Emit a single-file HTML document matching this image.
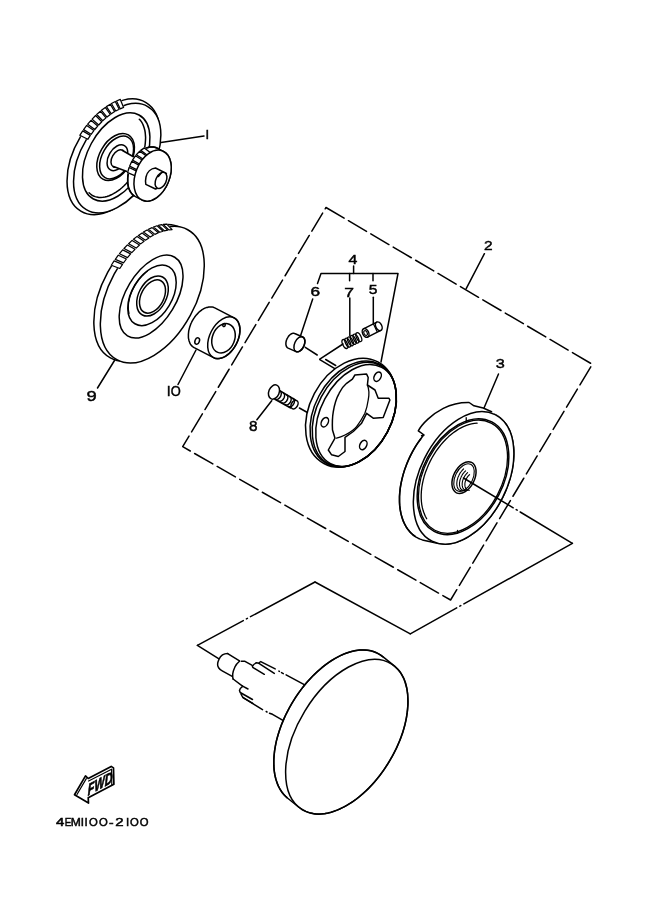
<!DOCTYPE html>
<html><head><meta charset="utf-8">
<style>
html,body{margin:0;padding:0;background:#fff;}
body{width:661px;height:913px;overflow:hidden;}
svg{display:block;will-change:transform;}
text{font-family:"Liberation Sans",sans-serif;fill:#000;}
</style></head><body>
<svg width="661" height="913" viewBox="0 0 661 913">
<g fill="none" stroke="#000" stroke-width="1.5" stroke-linecap="round" stroke-linejoin="round">
<path d="M326,207.5 L592.3,364.3 L450.6,600 L182.7,446.7 Z" fill="none" stroke-dasharray="21,5"/>
<path d="M572.4,543.3 L463.9,603.9 M460.8,605.6 L459.8,606.2 M456.7,607.9 L410.3,633.8" fill="none" />
<path d="M410.3,633.8 L315,582" fill="none" />
<path d="M315.0,582.0 L250.5,616.7 M247.4,618.4 L246.4,618.9 M243.3,620.6 L197.4,645.3" fill="none" />
<ellipse cx="113.4" cy="156.8" rx="38.5" ry="63.3" transform="rotate(31.0 113.4 156.8)" fill="#fff" />
<ellipse cx="117.2" cy="158.2" rx="36.0" ry="60.0" transform="rotate(31.0 117.2 158.2)" fill="#fff" />
<path d="M79.8,135.3 L80.9,133.6 L82.0,131.9 L83.1,130.3 L84.3,128.6 L85.5,127.0 L86.7,125.5 L87.9,123.9 L89.2,122.4 L90.4,120.9 L91.7,119.5 L93.1,118.1 L94.4,116.7 L95.8,115.4 L97.1,114.1 L98.5,112.8 L99.9,111.6 L101.3,110.4 L102.8,109.3 L104.2,108.2 L105.7,107.1 L107.1,106.2 L108.6,105.2 L110.0,104.3 L111.5,103.5 L113.0,102.7 L114.4,101.9 L115.9,101.2 L117.4,100.6 L118.8,100.0 L120.3,99.4 L123.6,107.4 L122.3,107.9 L121.0,108.4 L119.7,109.0 L118.4,109.6 L117.1,110.3 L115.8,111.0 L114.5,111.8 L113.2,112.6 L111.9,113.4 L110.7,114.3 L109.4,115.2 L108.1,116.2 L106.8,117.2 L105.6,118.3 L104.3,119.3 L103.1,120.5 L101.9,121.6 L100.7,122.8 L99.5,124.0 L98.3,125.3 L97.2,126.6 L96.1,127.9 L94.9,129.2 L93.9,130.6 L92.8,132.0 L91.7,133.4 L90.7,134.9 L89.7,136.4 L88.7,137.8 L87.8,139.3Z" fill="#fff" stroke="#fff" stroke-width="1.2"/>
<path d="M79.8,135.3 L82.7,130.9 L90.3,135.4 L87.8,139.3Z" fill="none" stroke-width="1.25" />
<path d="M83.6,129.6 L86.7,125.4 L93.9,130.6 L91.1,134.3Z" fill="none" stroke-width="1.25" />
<path d="M87.7,124.2 L91.0,120.3 L97.7,126.0 L94.8,129.5Z" fill="none" stroke-width="1.25" />
<path d="M92.1,119.1 L95.6,115.5 L101.8,121.7 L98.7,125.0Z" fill="none" stroke-width="1.25" />
<path d="M96.7,114.5 L100.4,111.2 L106.0,117.9 L102.7,120.8Z" fill="none" stroke-width="1.25" />
<path d="M101.5,110.3 L105.3,107.4 L110.3,114.5 L107.0,117.1Z" fill="none" stroke-width="1.25" />
<path d="M106.4,106.6 L110.3,104.2 L114.7,111.6 L111.3,113.8Z" fill="none" stroke-width="1.25" />
<path d="M111.4,103.5 L115.3,101.5 L119.2,109.2 L115.8,111.0Z" fill="none" stroke-width="1.25" />
<path d="M116.5,101.0 L120.3,99.4 L123.6,107.4 L120.2,108.8Z" fill="none" stroke-width="1.25" />
<ellipse cx="116.2" cy="157.0" rx="28.3" ry="47.8" transform="rotate(28.5 116.2 157.0)" fill="none" />
<path d="M139.3,119.2 L140.6,120.6 L141.7,122.2 L142.7,124.0 L143.5,125.9 L144.2,128.0 L144.8,130.2 L145.2,132.5 L145.4,134.9 L145.6,137.5 L145.5,140.1 L145.3,142.8 L145.0,145.6 L144.5,148.4 L143.8,151.2 L143.0,154.1 L142.1,157.0 L141.0,159.9 L139.8,162.8 L138.5,165.6 L137.0,168.4 L135.5,171.1 L133.8,173.8 L132.1,176.4 L130.2,178.8 L128.3,181.2 L126.3,183.4 L124.3,185.5 L122.2,187.5 L120.1,189.3 L117.9,190.9 L115.7,192.4 L113.5,193.7 L111.3,194.8 L109.2,195.7 L107.0,196.5 L104.9,197.0 L102.9,197.3 L100.8,197.4 L98.9,197.4 L97.0,197.1 L95.2,196.6 L93.5,196.0 L91.9,195.1 L90.5,194.0 L89.1,192.8" />
<ellipse cx="115.6" cy="157.0" rx="16.0" ry="25.5" transform="rotate(30.0 115.6 157.0)" fill="#fff" />
<ellipse cx="116.6" cy="157.5" rx="14.3" ry="23.2" transform="rotate(30.0 116.6 157.5)" fill="none" />
<ellipse cx="117.4" cy="157.7" rx="8.8" ry="14.0" transform="rotate(30.0 117.4 157.7)" fill="#fff" />
<ellipse cx="118.0" cy="158.5" rx="6.0" ry="9.5" transform="rotate(30.0 118.0 158.5)" fill="#fff" />
<path d="M122.5,150.5 L139,160 L131,173 L113.5,166.5" fill="#fff" />
<path d="M135.5,196.7 L134.7,196.2 L134.0,195.7 L133.2,195.2 L132.6,194.5 L131.9,193.9 L131.3,193.1 L130.8,192.3 L130.2,191.4 L129.8,190.5 L129.3,189.6 L129.0,188.6 L128.6,187.5 L128.3,186.4 L128.1,185.3 L127.9,184.1 L127.8,182.9 L127.7,181.7 L127.7,180.4 L127.7,179.2 L127.7,177.9 L127.9,176.5 L128.0,175.2 L128.2,173.9 L128.5,172.6 L128.8,171.2 L129.2,169.9 L129.6,168.6 L130.1,167.3 L130.6,166.0 L131.1,164.7 L131.7,163.4 L132.3,162.2 L133.0,161.0 L133.7,159.8 L134.4,158.7 L135.2,157.6 L136.0,156.5 L136.8,155.5 L137.7,154.5 L138.6,153.6 L139.5,152.7 L140.4,151.9 L141.3,151.1 L142.2,150.4 L143.2,149.8 L144.2,149.2 L145.1,148.7 L146.1,148.2 L147.1,147.8 L148.1,147.5 L149.0,147.3 L150.0,147.1 L151.0,147.0 L151.9,146.9 L152.8,147.0 L153.7,147.1 L154.6,147.2 L155.5,147.5 L156.3,147.8 L157.1,148.1 L163.4,151.3 L164.2,151.8 L164.9,152.3 L165.7,152.8 L166.3,153.5 L167.0,154.1 L167.6,154.9 L168.1,155.7 L168.7,156.6 L169.1,157.5 L169.6,158.4 L169.9,159.4 L170.3,160.5 L170.6,161.6 L170.8,162.7 L171.0,163.9 L171.1,165.1 L171.2,166.3 L171.2,167.6 L171.2,168.8 L171.2,170.1 L171.0,171.5 L170.9,172.8 L170.7,174.1 L170.4,175.4 L170.1,176.8 L169.7,178.1 L169.3,179.4 L168.8,180.7 L168.3,182.0 L167.8,183.3 L167.2,184.6 L166.6,185.8 L165.9,187.0 L165.2,188.2 L164.5,189.3 L163.7,190.4 L162.9,191.5 L162.1,192.5 L161.2,193.5 L160.3,194.4 L159.4,195.3 L158.5,196.1 L157.6,196.9 L156.7,197.6 L155.7,198.2 L154.7,198.8 L153.8,199.3 L152.8,199.8 L151.8,200.2 L150.8,200.5 L149.9,200.7 L148.9,200.9 L147.9,201.0 L147.0,201.1 L146.1,201.0 L145.2,200.9 L144.3,200.8 L143.4,200.5 L142.6,200.2 L141.8,199.9Z" fill="#fff"/>
<path d="M133.7,195.6 L132.8,194.8 L132.0,193.9 L131.2,192.9 L130.4,191.8 L129.8,190.6 L129.2,189.3 L128.7,187.9 L128.3,186.5 L128.0,185.0 L127.8,183.4 L127.7,181.7 L127.7,180.1 L127.7,178.4 L127.8,176.6 L128.1,174.9 L128.4,173.1 L128.8,171.3 L129.3,169.5 L129.9,167.8 L130.5,166.0 L131.3,164.3 L132.1,162.7 L133.0,161.0 L133.9,159.5 L134.9,158.0 L136.0,156.6 L137.1,155.2 L138.2,153.9 L139.4,152.8 L140.6,151.7 L141.9,150.7 L143.2,149.8 L144.4,149.0 L145.7,148.4 L147.0,147.9 L148.3,147.4 L149.6,147.1 L150.9,147.0 L152.2,146.9 L153.4,147.0 L154.6,147.2 L155.7,147.5 L156.8,148.0 L157.9,148.5 L158.9,149.2" />
<path d="M127.6,172.6 L127.8,171.6 L128.1,170.6 L128.4,169.5 L128.7,168.5 L129.1,167.5 L129.5,166.4 L129.9,165.4 L130.3,164.4 L130.7,163.4 L131.2,162.5 L131.7,161.5 L132.2,160.6 L132.8,159.6 L133.3,158.7 L133.9,157.8 L134.5,157.0 L135.1,156.1 L135.8,155.3 L136.4,154.5 L137.1,153.8 L137.8,153.0 L138.5,152.3 L139.2,151.7 L139.9,151.0 L140.6,150.4 L141.4,149.8 L142.1,149.3 L142.8,148.8 L143.6,148.3 L144.4,147.9 L150.8,152.9 L150.1,153.3 L149.4,153.8 L148.7,154.3 L148.0,154.8 L147.4,155.3 L146.7,155.8 L146.0,156.4 L145.4,157.1 L144.7,157.7 L144.1,158.4 L143.5,159.1 L142.9,159.8 L142.3,160.6 L141.7,161.4 L141.2,162.2 L140.6,163.0 L140.1,163.8 L139.6,164.7 L139.1,165.5 L138.7,166.4 L138.2,167.3 L137.8,168.2 L137.4,169.2 L137.0,170.1 L136.7,171.0 L136.4,172.0 L136.1,172.9 L135.8,173.9 L135.6,174.9 L135.3,175.8Z" fill="#fff" stroke="#fff" stroke-width="1.2"/>
<path d="M127.6,172.6 L129.1,167.5 L136.7,171.1 L135.3,175.8Z" fill="none" stroke-width="1.3" />
<path d="M129.6,166.2 L131.8,161.3 L139.2,165.4 L137.1,169.8Z" fill="none" stroke-width="1.3" />
<path d="M132.5,160.1 L135.4,155.8 L142.6,160.2 L139.9,164.2Z" fill="none" stroke-width="1.3" />
<path d="M136.3,154.7 L139.7,151.2 L146.5,156.0 L143.4,159.2Z" fill="none" stroke-width="1.3" />
<path d="M140.7,150.4 L144.4,147.9 L150.8,152.9 L147.4,155.2Z" fill="none" stroke-width="1.3" />
<ellipse cx="152.6" cy="175.6" rx="17.0" ry="26.6" transform="rotate(22.0 152.6 175.6)" fill="#fff" />
<path d="M155.5,168 C151,168.5 147,172 146,177 C145.3,180.5 145.3,182.5 145.8,184.3 L155.5,189 L161,187 L166.4,173.4 Z" fill="#fff" />
<ellipse cx="161.0" cy="180.4" rx="5.2" ry="8.6" transform="rotate(25.0 161.0 180.4)" fill="#fff" />
<line x1="158.5" y1="176.5" x2="161.5" y2="172.8" stroke-width="1.2" />
<line x1="161.0" y1="142.5" x2="204.0" y2="136.0" />
<ellipse cx="145.8" cy="292.9" rx="43.3" ry="74.0" transform="rotate(28.6 145.8 292.9)" fill="#fff" />
<ellipse cx="152.3" cy="294.7" rx="43.3" ry="74.0" transform="rotate(28.6 152.3 294.7)" fill="#fff" />
<path d="M111.3,265.3 L112.8,262.9 L114.4,260.6 L116.0,258.4 L117.6,256.2 L119.3,254.0 L121.0,251.9 L122.8,249.8 L124.6,247.9 L126.4,245.9 L128.2,244.1 L130.1,242.3 L132.0,240.6 L133.9,238.9 L135.8,237.4 L137.7,235.9 L139.7,234.5 L141.7,233.2 L143.6,231.9 L145.6,230.8 L147.6,229.7 L149.5,228.7 L151.5,227.8 L153.4,227.0 L155.4,226.3 L157.3,225.7 L159.2,225.2 L161.1,224.8 L163.0,224.5 L164.8,224.2 L166.7,224.1 L172.1,229.6 L170.4,229.7 L168.7,229.9 L166.9,230.2 L165.1,230.6 L163.3,231.1 L161.5,231.7 L159.6,232.3 L157.8,233.1 L155.9,233.9 L154.1,234.8 L152.2,235.9 L150.3,236.9 L148.5,238.1 L146.6,239.4 L144.8,240.7 L142.9,242.1 L141.1,243.6 L139.3,245.1 L137.5,246.8 L135.8,248.5 L134.0,250.2 L132.3,252.0 L130.6,253.9 L129.0,255.8 L127.3,257.8 L125.7,259.9 L124.2,262.0 L122.7,264.1 L121.2,266.3 L119.8,268.5Z" fill="#fff" stroke="#fff" stroke-width="1.2"/>
<path d="M111.3,265.3 L114.1,260.9 L122.5,264.4 L119.8,268.5Z" fill="none" stroke-width="1.2" />
<path d="M115.3,259.4 L118.3,255.2 L126.4,259.0 L123.5,262.9Z" fill="none" stroke-width="1.2" />
<path d="M119.5,253.7 L122.7,249.9 L130.6,253.9 L127.5,257.6Z" fill="none" stroke-width="1.2" />
<path d="M124.0,248.5 L127.4,244.9 L135.0,249.3 L131.8,252.6Z" fill="none" stroke-width="1.2" />
<path d="M128.6,243.7 L132.1,240.4 L139.5,245.0 L136.2,248.1Z" fill="none" stroke-width="1.2" />
<path d="M133.5,239.3 L137.1,236.4 L144.1,241.2 L140.7,243.9Z" fill="none" stroke-width="1.2" />
<path d="M138.4,235.4 L142.1,232.9 L148.9,237.9 L145.4,240.2Z" fill="none" stroke-width="1.2" />
<path d="M143.4,232.0 L147.1,229.9 L153.6,235.1 L150.2,237.1Z" fill="none" stroke-width="1.2" />
<path d="M148.5,229.2 L152.1,227.6 L158.4,232.8 L154.9,234.4Z" fill="none" stroke-width="1.2" />
<path d="M153.5,227.0 L157.1,225.8 L163.1,231.2 L159.7,232.3Z" fill="none" stroke-width="1.2" />
<path d="M158.4,225.4 L161.9,224.6 L167.7,230.1 L164.3,230.8Z" fill="none" stroke-width="1.2" />
<path d="M163.2,224.4 L166.7,224.1 L172.1,229.6 L168.9,229.9Z" fill="none" stroke-width="1.2" />
<ellipse cx="151.1" cy="296.6" rx="25.0" ry="45.9" transform="rotate(31.0 151.1 296.6)" fill="none" />
<ellipse cx="152.0" cy="295.3" rx="20.0" ry="33.2" transform="rotate(31.0 152.0 295.3)" fill="none" />
<path d="M129.0,313.4 L128.7,311.8 L128.4,310.1 L128.3,308.3 L128.3,306.4 L128.4,304.5 L128.6,302.5 L129.0,300.5 L129.5,298.4 L130.0,296.4 L130.7,294.3 L131.5,292.2 L132.4,290.2 L133.4,288.2 L134.5,286.2 L135.7,284.2 L136.9,282.3 L138.2,280.5 L139.6,278.7 L141.1,277.0 L142.6,275.4 L144.1,274.0 L145.7,272.6 L147.3,271.3" stroke-width="1.3" />
<ellipse cx="152.5" cy="296.0" rx="13.8" ry="21.5" transform="rotate(28.0 152.5 296.0)" fill="none" />
<ellipse cx="152.5" cy="296.5" rx="11.3" ry="17.8" transform="rotate(28.0 152.5 296.5)" fill="none" />
<line x1="114.5" y1="360.5" x2="97.5" y2="388.0" />
<path d="M194.2,347.7 L193.6,347.3 L193.0,346.9 L192.4,346.5 L191.9,345.9 L191.4,345.4 L190.9,344.8 L190.4,344.1 L190.0,343.4 L189.7,342.6 L189.4,341.8 L189.1,341.0 L188.9,340.1 L188.7,339.2 L188.5,338.3 L188.4,337.4 L188.4,336.4 L188.4,335.4 L188.4,334.3 L188.5,333.3 L188.6,332.2 L188.7,331.1 L188.9,330.1 L189.2,329.0 L189.5,327.9 L189.8,326.8 L190.2,325.7 L190.6,324.6 L191.0,323.5 L191.5,322.5 L192.0,321.4 L192.6,320.4 L193.2,319.4 L193.8,318.4 L194.5,317.4 L195.1,316.5 L195.8,315.6 L196.6,314.7 L197.3,313.9 L198.1,313.1 L198.8,312.3 L199.6,311.6 L200.5,310.9 L201.3,310.3 L202.1,309.7 L203.0,309.2 L203.8,308.7 L204.6,308.3 L205.5,307.9 L206.3,307.6 L207.2,307.4 L208.0,307.2 L208.8,307.0 L209.6,306.9 L210.4,306.9 L211.2,306.9 L212.0,307.0 L212.7,307.1 L213.4,307.3 L214.1,307.6 L214.8,307.9 L234.1,317.8 L234.7,318.2 L235.3,318.6 L235.9,319.0 L236.4,319.6 L236.9,320.1 L237.4,320.7 L237.9,321.4 L238.3,322.1 L238.6,322.9 L238.9,323.7 L239.2,324.5 L239.4,325.4 L239.6,326.3 L239.8,327.2 L239.9,328.1 L239.9,329.1 L239.9,330.1 L239.9,331.2 L239.8,332.2 L239.7,333.3 L239.6,334.4 L239.4,335.4 L239.1,336.5 L238.8,337.6 L238.5,338.7 L238.1,339.8 L237.7,340.9 L237.3,342.0 L236.8,343.0 L236.3,344.1 L235.7,345.1 L235.1,346.1 L234.5,347.1 L233.8,348.1 L233.2,349.0 L232.5,349.9 L231.7,350.8 L231.0,351.6 L230.2,352.4 L229.5,353.2 L228.7,353.9 L227.8,354.6 L227.0,355.2 L226.2,355.8 L225.3,356.3 L224.5,356.8 L223.7,357.2 L222.8,357.6 L222.0,357.9 L221.1,358.1 L220.3,358.3 L219.5,358.5 L218.7,358.6 L217.9,358.6 L217.1,358.6 L216.3,358.5 L215.6,358.4 L214.9,358.2 L214.2,357.9 L213.5,357.6Z" fill="#fff"/>
<ellipse cx="223.8" cy="337.7" rx="14.0" ry="22.4" transform="rotate(27.4 223.8 337.7)" fill="none" />
<ellipse cx="223.5" cy="338.3" rx="11.1" ry="15.2" transform="rotate(22.0 223.5 338.3)" fill="none" />
<ellipse cx="197.2" cy="341.0" rx="2.2" ry="3.3" transform="rotate(20.0 197.2 341.0)" fill="none" />
<ellipse cx="224.0" cy="325.0" rx="1.2" ry="1.6" transform="rotate(20.0 224.0 325.0)" fill="none" />
<line x1="196.0" y1="350.0" x2="178.0" y2="384.5" />
<ellipse cx="350.9" cy="412.7" rx="41.3" ry="57.5" transform="rotate(28.0 350.9 412.7)" fill="#fff" />
<ellipse cx="353.2" cy="413.9" rx="38.7" ry="56.2" transform="rotate(28.0 353.2 413.9)" fill="none" />
<ellipse cx="354.3" cy="414.5" rx="37.4" ry="55.5" transform="rotate(28.0 354.3 414.5)" fill="none" />
<ellipse cx="356.1" cy="415.5" rx="35.4" ry="54.5" transform="rotate(28.0 356.1 415.5)" fill="none" />
<ellipse cx="324.8" cy="422.2" rx="3.3" ry="5.0" transform="rotate(28.0 324.8 422.2)" fill="none" />
<ellipse cx="377.6" cy="376.7" rx="3.3" ry="5.0" transform="rotate(28.0 377.6 376.7)" fill="none" />
<ellipse cx="363.3" cy="445.0" rx="3.3" ry="5.0" transform="rotate(28.0 363.3 445.0)" fill="none" />
<path d="M352.4,379.1 L354.9,375 L366.6,374.1 L368.2,377.5 L367.4,385 L375,390 L378.2,398.3 L389,398.3 L389.9,400 L383.2,417.5 L373.2,418.2 L366.6,413.3 L361.6,423.2 L353.3,431.5 L345,437.4 L345,445 L345,451.5 L338.3,456.5 L331.6,454.8 L328.3,450 L335,438.2 L332.5,430 C332.2,424 332.5,416 333.3,411.6 C334.5,404 336.5,398 339.1,393.3 C341,389 344,385.5 346.6,383.3 Z" fill="#fff" />
<path d="M367.4,385 C369.5,390 369,396 368.2,400 C367.5,405 366.5,409 364.9,413.3 C362,419 359.5,423 356.6,426.6 C353,431 349,433 345,435 C342,436.5 339,437.6 336.6,438.2" fill="none" stroke-width="1.3" />
<path d="M288.1,348.1 L287.9,348.0 L287.6,347.8 L287.4,347.7 L287.2,347.5 L287.1,347.3 L286.9,347.1 L286.7,346.9 L286.6,346.7 L286.4,346.4 L286.3,346.1 L286.2,345.9 L286.1,345.6 L286.1,345.2 L286.0,344.9 L285.9,344.6 L285.9,344.2 L285.9,343.9 L285.9,343.5 L285.9,343.2 L285.9,342.8 L286.0,342.4 L286.0,342.0 L286.1,341.6 L286.2,341.2 L286.3,340.8 L286.4,340.4 L286.5,340.0 L286.7,339.6 L286.8,339.3 L287.0,338.9 L287.2,338.5 L287.4,338.1 L287.6,337.8 L287.8,337.4 L288.0,337.1 L288.2,336.7 L288.5,336.4 L288.7,336.1 L289.0,335.8 L289.2,335.5 L289.5,335.2 L289.8,335.0 L290.1,334.7 L290.4,334.5 L290.6,334.3 L290.9,334.1 L291.2,333.9 L291.5,333.8 L291.8,333.6 L292.1,333.5 L292.4,333.4 L292.6,333.4 L292.9,333.3 L293.2,333.3 L293.5,333.3 L293.7,333.3 L294.0,333.3 L294.2,333.4 L294.5,333.4 L294.7,333.5 L302.7,337.0 L302.9,337.1 L303.2,337.3 L303.4,337.4 L303.6,337.6 L303.7,337.8 L303.9,338.0 L304.1,338.2 L304.2,338.4 L304.4,338.7 L304.5,339.0 L304.6,339.2 L304.7,339.5 L304.7,339.9 L304.8,340.2 L304.9,340.5 L304.9,340.9 L304.9,341.2 L304.9,341.6 L304.9,341.9 L304.9,342.3 L304.8,342.7 L304.8,343.1 L304.7,343.5 L304.6,343.9 L304.5,344.3 L304.4,344.7 L304.3,345.1 L304.1,345.5 L304.0,345.8 L303.8,346.2 L303.6,346.6 L303.4,347.0 L303.2,347.3 L303.0,347.7 L302.8,348.0 L302.6,348.4 L302.3,348.7 L302.1,349.0 L301.8,349.3 L301.6,349.6 L301.3,349.9 L301.0,350.1 L300.7,350.4 L300.4,350.6 L300.2,350.8 L299.9,351.0 L299.6,351.2 L299.3,351.3 L299.0,351.5 L298.7,351.6 L298.4,351.7 L298.2,351.7 L297.9,351.8 L297.6,351.8 L297.3,351.8 L297.1,351.8 L296.8,351.8 L296.6,351.7 L296.3,351.7 L296.1,351.6Z" fill="#fff"/>
<ellipse cx="299.4" cy="344.3" rx="4.8" ry="8.0" transform="rotate(25.0 299.4 344.3)" fill="none" />
<path d="M305.3,347.3 L317.2,355.0" fill="none" />
<path d="M319.8,359.1 L343,344" fill="none" />
<line x1="319.8" y1="359.6" x2="334.8" y2="368.6" />
<line x1="325.7" y1="359.5" x2="335.7" y2="365.5" />
<ellipse cx="345.0" cy="344.0" rx="2.3" ry="4.8" transform="rotate(-26.0 345.0 344.0)" fill="none" stroke-width="1.3" />
<ellipse cx="347.8" cy="342.6" rx="2.3" ry="4.8" transform="rotate(-26.0 347.8 342.6)" fill="none" stroke-width="1.3" />
<ellipse cx="350.5" cy="341.3" rx="2.3" ry="4.8" transform="rotate(-26.0 350.5 341.3)" fill="none" stroke-width="1.3" />
<ellipse cx="353.3" cy="339.9" rx="2.3" ry="4.8" transform="rotate(-26.0 353.3 339.9)" fill="none" stroke-width="1.3" />
<ellipse cx="356.0" cy="338.6" rx="2.3" ry="4.8" transform="rotate(-26.0 356.0 338.6)" fill="none" stroke-width="1.3" />
<ellipse cx="358.8" cy="337.2" rx="2.3" ry="4.8" transform="rotate(-26.0 358.8 337.2)" fill="none" stroke-width="1.3" />
<path d="M364.0,328.7 L376.8,322.2 L380.8,330.4 L367.5,337.2 Z" fill="#fff" />
<ellipse cx="378.8" cy="326.3" rx="3.0" ry="4.6" transform="rotate(-26.0 378.8 326.3)" fill="#fff" />
<line x1="373.5" y1="324.0" x2="377.0" y2="331.5" stroke-width="1.2" />
<ellipse cx="365.6" cy="332.9" rx="3.0" ry="4.6" transform="rotate(-26.0 365.6 332.9)" fill="#fff" />
<ellipse cx="365.6" cy="333.1" rx="1.6" ry="2.5" transform="rotate(-26.0 365.6 333.1)" fill="none" stroke-width="1.1" />
<path d="M279.8,390.6 L295.3,400 L290.7,408 L274.9,399.3" fill="#fff" />
<ellipse cx="294.5" cy="404.6" rx="3.2" ry="4.6" transform="rotate(30.0 294.5 404.6)" fill="#fff" />
<path d="M279.9,391.1 L280.1,391.2 L280.2,391.3 L280.4,391.4 L280.6,391.6 L280.7,391.7 L280.8,391.9 L280.9,392.1 L281.0,392.4 L281.1,392.6 L281.2,392.8 L281.2,393.1 L281.3,393.3 L281.3,393.6 L281.3,393.9 L281.2,394.2 L281.2,394.5 L281.1,394.8 L281.1,395.1 L281.0,395.4 L280.9,395.7 L280.8,396.0 L280.6,396.3 L280.5,396.6 L280.3,396.8 L280.1,397.1 L280.0,397.4 L279.8,397.6 L279.6,397.9 L279.3,398.1 L279.1,398.3 L278.9,398.5 L278.6,398.7 L278.4,398.9 L278.2,399.0 L277.9,399.1 L277.7,399.2 L277.4,399.3 L277.2,399.4 L277.0,399.4 L276.7,399.5 L276.5,399.5 L276.3,399.4 L276.0,399.4 L275.8,399.3 L275.6,399.3 L275.5,399.2 L275.3,399.0" stroke-width="1.4" />
<path d="M283.2,392.9 L283.4,393.0 L283.5,393.1 L283.7,393.3 L283.9,393.4 L284.0,393.6 L284.1,393.8 L284.2,394.0 L284.3,394.2 L284.4,394.4 L284.5,394.7 L284.5,394.9 L284.6,395.2 L284.6,395.5 L284.6,395.7 L284.5,396.0 L284.5,396.3 L284.4,396.6 L284.4,396.9 L284.3,397.2 L284.2,397.5 L284.1,397.8 L283.9,398.1 L283.8,398.4 L283.6,398.7 L283.4,399.0 L283.3,399.2 L283.1,399.5 L282.9,399.7 L282.6,399.9 L282.4,400.1 L282.2,400.3 L281.9,400.5 L281.7,400.7 L281.5,400.8 L281.2,401.0 L281.0,401.1 L280.7,401.2 L280.5,401.2 L280.3,401.3 L280.0,401.3 L279.8,401.3 L279.6,401.3 L279.3,401.2 L279.1,401.2 L278.9,401.1 L278.8,401.0 L278.6,400.9" stroke-width="1.4" />
<path d="M286.5,394.8 L286.7,394.9 L286.8,395.0 L287.0,395.1 L287.2,395.3 L287.3,395.4 L287.4,395.6 L287.5,395.8 L287.6,396.0 L287.7,396.3 L287.8,396.5 L287.8,396.8 L287.9,397.0 L287.9,397.3 L287.9,397.6 L287.8,397.9 L287.8,398.2 L287.7,398.5 L287.7,398.8 L287.6,399.1 L287.5,399.4 L287.4,399.7 L287.2,400.0 L287.1,400.2 L286.9,400.5 L286.7,400.8 L286.6,401.1 L286.4,401.3 L286.2,401.5 L285.9,401.8 L285.7,402.0 L285.5,402.2 L285.2,402.4 L285.0,402.5 L284.8,402.7 L284.5,402.8 L284.3,402.9 L284.0,403.0 L283.8,403.1 L283.6,403.1 L283.3,403.1 L283.1,403.1 L282.9,403.1 L282.6,403.1 L282.4,403.0 L282.2,402.9 L282.1,402.8 L281.9,402.7" stroke-width="1.4" />
<path d="M289.8,396.6 L290.0,396.7 L290.1,396.8 L290.3,397.0 L290.5,397.1 L290.6,397.3 L290.7,397.5 L290.8,397.7 L290.9,397.9 L291.0,398.1 L291.1,398.3 L291.1,398.6 L291.2,398.9 L291.2,399.1 L291.2,399.4 L291.1,399.7 L291.1,400.0 L291.0,400.3 L291.0,400.6 L290.9,400.9 L290.8,401.2 L290.7,401.5 L290.5,401.8 L290.4,402.1 L290.2,402.4 L290.0,402.6 L289.9,402.9 L289.7,403.1 L289.5,403.4 L289.2,403.6 L289.0,403.8 L288.8,404.0 L288.5,404.2 L288.3,404.4 L288.1,404.5 L287.8,404.6 L287.6,404.7 L287.3,404.8 L287.1,404.9 L286.9,404.9 L286.6,405.0 L286.4,405.0 L286.2,405.0 L285.9,404.9 L285.7,404.9 L285.5,404.8 L285.4,404.7 L285.2,404.6" stroke-width="1.4" />
<path d="M293.1,398.5 L293.3,398.6 L293.4,398.7 L293.6,398.8 L293.8,398.9 L293.9,399.1 L294.0,399.3 L294.1,399.5 L294.2,399.7 L294.3,399.9 L294.4,400.2 L294.4,400.4 L294.5,400.7 L294.5,401.0 L294.5,401.3 L294.4,401.5 L294.4,401.8 L294.3,402.1 L294.3,402.4 L294.2,402.7 L294.1,403.0 L294.0,403.3 L293.8,403.6 L293.7,403.9 L293.5,404.2 L293.3,404.5 L293.2,404.7 L293.0,405.0 L292.8,405.2 L292.5,405.5 L292.3,405.7 L292.1,405.9 L291.8,406.0 L291.6,406.2 L291.4,406.4 L291.1,406.5 L290.9,406.6 L290.6,406.7 L290.4,406.7 L290.2,406.8 L289.9,406.8 L289.7,406.8 L289.5,406.8 L289.2,406.8 L289.0,406.7 L288.8,406.6 L288.7,406.5 L288.5,406.4" stroke-width="1.4" />
<ellipse cx="274.0" cy="392.0" rx="5.2" ry="7.4" transform="rotate(22.0 274.0 392.0)" fill="#fff" />
<line x1="299.4" y1="408.0" x2="307.4" y2="412.5" />
<path d="M424.6,540.4 L422.4,539.9 L420.2,539.1 L418.1,538.2 L416.1,537.1 L414.2,535.8 L412.4,534.3 L410.7,532.7 L409.1,530.9 L407.6,529.0 L406.2,527.0 L405.0,524.7 L403.8,522.4 L402.8,519.9 L401.9,517.3 L401.2,514.6 L400.6,511.8 L400.1,508.8 L399.7,505.8 L399.5,502.7 L399.5,499.5 L399.5,496.3 L399.7,493.0 L400.1,489.6 L400.5,486.2 L401.1,482.8 L401.9,479.3 L402.8,475.9 L403.8,472.4 L404.9,468.9 L406.2,465.5 L407.5,462.1 L409.0,458.7 L410.6,455.4 L412.3,452.1 L414.1,448.9 L416.0,445.7 L418.0,442.6 L420.1,439.7 L422.3,436.8 L424.5,434.0 L426.8,431.3 L429.2,428.8 L431.6,426.4 L434.1,424.1 L436.6,421.9 L439.2,419.9 L441.8,418.1 L444.4,416.4 L447.0,414.8 L449.6,413.4 L452.3,412.2 L454.9,411.2 L457.5,410.3 L460.1,409.7 L462.6,409.2 L465.2,408.8 L467.6,408.7 L470.1,408.7 L472.5,409.0 L474.8,409.4 L488.7,412.4 L490.9,412.9 L493.1,413.7 L495.2,414.6 L497.2,415.7 L499.1,417.0 L500.9,418.5 L502.6,420.1 L504.2,421.9 L505.7,423.8 L507.1,425.8 L508.3,428.1 L509.5,430.4 L510.5,432.9 L511.4,435.5 L512.1,438.2 L512.7,441.0 L513.2,444.0 L513.6,447.0 L513.8,450.1 L513.8,453.3 L513.8,456.5 L513.6,459.8 L513.2,463.2 L512.8,466.6 L512.2,470.0 L511.4,473.5 L510.5,476.9 L509.5,480.4 L508.4,483.9 L507.1,487.3 L505.8,490.7 L504.3,494.1 L502.7,497.4 L501.0,500.7 L499.2,503.9 L497.3,507.1 L495.3,510.2 L493.2,513.1 L491.0,516.0 L488.8,518.8 L486.5,521.5 L484.1,524.0 L481.7,526.4 L479.2,528.7 L476.7,530.9 L474.1,532.9 L471.5,534.7 L468.9,536.4 L466.3,538.0 L463.7,539.4 L461.0,540.6 L458.4,541.6 L455.8,542.5 L453.2,543.1 L450.7,543.6 L448.1,544.0 L445.7,544.1 L443.2,544.1 L440.8,543.8 L438.5,543.4Z" fill="#fff"/>
<path d="M421.6,435.8 L424.1,435 L418.3,430.8 C422,424 432,414 443.3,408.3 C450,405 460,402.3 469.1,402.5 L474,405.8 L483.2,408 L491.6,411.7 L505,420 L480,440 Z" fill="#fff" stroke="none"/>
<path d="M414.9,536.2 L412.4,534.3 L410.1,532.1 L408.0,529.6 L406.2,526.9 L404.5,523.8 L403.1,520.6 L401.9,517.1 L400.9,513.4 L400.2,509.5 L399.7,505.4 L399.5,501.2 L399.5,496.9 L399.8,492.4 L400.3,487.9 L401.1,483.3 L402.1,478.6 L403.3,474.0 L404.8,469.3 L406.5,464.7 L408.4,460.1 L410.5,455.6 L412.8,451.2 L415.3,446.9 L418.0,442.7 L420.8,438.7" />
<path d="M421.6,435.8 L424.1,435 L418.3,430.8 C422,424 432,414 443.3,408.3 C450,405 460,402.3 469.1,402.5 L474,405.8 L483.2,408 L491.6,411.7" fill="none" />
<ellipse cx="463.6" cy="477.9" rx="43.7" ry="70.7" transform="rotate(26.5 463.6 477.9)" fill="#fff" />
<ellipse cx="463.0" cy="476.7" rx="40.2" ry="61.9" transform="rotate(27.8 463.0 476.7)" fill="none" />
<ellipse cx="463.0" cy="476.7" rx="38.9" ry="60.5" transform="rotate(27.8 463.0 476.7)" fill="none" stroke-width="1.3" />
<path d="M426.7,518.7 L425.3,516.2 L424.2,513.6 L423.2,510.8 L422.4,507.9 L421.8,504.8 L421.4,501.5 L421.2,498.2 L421.2,494.7 L421.4,491.1 L421.8,487.5 L422.4,483.8 L423.2,480.1 L424.2,476.3 L425.4,472.6 L426.8,468.9 L428.3,465.2 L430.0,461.6 L431.9,458.0 L433.9,454.6 L436.1,451.2 L438.4,448.0 L440.8,444.9 L443.3,442.0 L445.9,439.2 L448.6,436.6 L451.4,434.2 L454.2,432.1 L457.1,430.1 L460.0,428.3 L462.9,426.8 L465.8,425.6 L468.7,424.6 L471.5,423.8 L474.3,423.3 L477.1,423.1" stroke-width="1.3" />
<line x1="466.3" y1="421.1" x2="466.2" y2="417.7" stroke-width="1.3" />
<line x1="457.4" y1="533.1" x2="457.5" y2="530.4" stroke-width="1.3" />
<ellipse cx="464.0" cy="477.6" rx="10.5" ry="17.0" transform="rotate(26.5 464.0 477.6)" fill="#fff" />
<ellipse cx="464.0" cy="477.6" rx="8.8" ry="14.8" transform="rotate(26.5 464.0 477.6)" fill="none" stroke-width="1.1" />
<path d="M462.6,490.8 L462.0,490.8 L461.4,490.8 L460.9,490.7 L460.4,490.5 L459.9,490.3 L459.4,490.0 L459.0,489.7 L458.6,489.3 L458.2,488.9 L457.9,488.4 L457.6,487.9 L457.4,487.3 L457.2,486.7 L457.0,486.0 L456.9,485.3 L456.8,484.6 L456.8,483.8 L456.8,483.0 L456.9,482.2 L457.0,481.4 L457.1,480.5 L457.3,479.7 L457.6,478.8 L457.8,477.9 L458.1,477.1 L458.5,476.2 L458.9,475.4 L459.3,474.5 L459.7,473.7 L460.2,472.9 L460.7,472.2 L461.3,471.5 L461.8,470.8 L462.4,470.1 L463.0,469.5 L463.6,468.9" stroke-width="1.1" />
<path d="M464.9,490.6 L464.3,490.6 L463.8,490.6 L463.3,490.5 L462.8,490.3 L462.4,490.1 L461.9,489.9 L461.6,489.6 L461.2,489.2 L460.8,488.9 L460.5,488.4 L460.3,487.9 L460.1,487.4 L459.9,486.8 L459.7,486.2 L459.6,485.6 L459.5,484.9 L459.5,484.2 L459.5,483.5 L459.5,482.8 L459.6,482.0 L459.8,481.2 L459.9,480.5 L460.1,479.7 L460.4,478.9 L460.7,478.1 L461.0,477.4 L461.3,476.6 L461.7,475.9 L462.1,475.1 L462.5,474.4 L463.0,473.7 L463.5,473.1 L464.0,472.5 L464.5,471.9 L465.1,471.3 L465.6,470.8" stroke-width="1.1" />
<path d="M467.1,490.4 L466.6,490.4 L466.2,490.4 L465.7,490.3 L465.3,490.2 L464.9,490.0 L464.5,489.8 L464.1,489.5 L463.8,489.2 L463.5,488.8 L463.2,488.4 L462.9,488.0 L462.7,487.5 L462.5,487.0 L462.4,486.4 L462.3,485.9 L462.2,485.3 L462.2,484.7 L462.2,484.0 L462.2,483.3 L462.3,482.7 L462.4,482.0 L462.5,481.3 L462.7,480.6 L462.9,479.9 L463.2,479.2 L463.5,478.5 L463.8,477.9 L464.1,477.2 L464.5,476.5 L464.9,475.9 L465.3,475.3 L465.7,474.7 L466.2,474.2 L466.6,473.7 L467.1,473.2 L467.6,472.7" stroke-width="1.1" />
<path d="M469.4,490.2 L468.9,490.2 L468.5,490.2 L468.1,490.1 L467.7,490.0 L467.3,489.8 L467.0,489.6 L466.7,489.4 L466.3,489.1 L466.1,488.8 L465.8,488.4 L465.6,488.0 L465.4,487.6 L465.2,487.1 L465.1,486.7 L465.0,486.2 L464.9,485.6 L464.9,485.1 L464.9,484.5 L464.9,483.9 L464.9,483.3 L465.0,482.7 L465.2,482.1 L465.3,481.5 L465.5,480.9 L465.7,480.3 L465.9,479.7 L466.2,479.1 L466.5,478.5 L466.8,477.9 L467.2,477.4 L467.5,476.9 L467.9,476.4 L468.3,475.9 L468.8,475.4 L469.2,475.0 L469.6,474.6" stroke-width="1.1" />
<line x1="498.5" y1="374.0" x2="484.0" y2="408.0" />
<path d="M463.5,478.0 L513.2,507.8 M516.2,509.6 L517.2,510.2 M520.2,512.0 L572.4,543.3" fill="none" />
<path d="M317.5,283.5 L321,273.5 L398,273.5 L381,362" fill="none" />
<line x1="353.6" y1="266.0" x2="353.6" y2="273.5" />
<line x1="349.6" y1="273.5" x2="349.6" y2="280.8" />
<line x1="373.0" y1="273.5" x2="373.0" y2="280.8" />
<line x1="312.7" y1="299.0" x2="300.3" y2="336.4" />
<line x1="349.8" y1="298.0" x2="349.8" y2="335.4" />
<line x1="373.3" y1="297.2" x2="373.3" y2="323.6" />
<line x1="484.4" y1="253.7" x2="466.2" y2="288.6" />
<line x1="256.9" y1="419.8" x2="271.7" y2="400.7" />
<path d="M197.4,645.3 L218.6,658.6" fill="none" />
<path d="M227.7,653.6 C224,653.6 220.5,656 218.9,659.5 C217.5,662.5 217.3,666 218.6,667.7 C219.5,669 220.8,670.2 222.2,670.9 L232.2,676.3" fill="#fff" />
<line x1="227.7" y1="653.6" x2="239.5" y2="660.9" />
<path d="M239.5,661.3 C237.5,663 235.8,665 235,666.8 C233.8,669.5 232.8,672 232.7,674 C232.6,676 232.8,678 233.1,679" fill="none" />
<path d="M241.3,661.3 L245,661.3 L252.2,665.4" fill="none" />
<path d="M264.3,674.3 L253.1,667.7 C252.5,667 252.3,666.6 252.5,666.2 C253.5,664.5 255,663.3 256.5,662.8 L258.9,663.3 L274.3,673.4" fill="none" />
<path d="M258.9,663.3 C259.3,662.5 260,661.8 260.7,661.6 L275.2,668.9" fill="none" />
<path d="M278.9,671.1 L279.4,671.4 M281.5,672.6 L283.3,673.6 M286.1,674.8 L305.2,685.2" fill="none" />
<line x1="233.1" y1="679.0" x2="242.2" y2="685.9" />
<path d="M242.2,686.8 C241,687.5 239.8,688.8 239.5,690.4 L240.2,692.5 L252.5,699.5" fill="none" />
<path d="M242.2,685.9 L248,689" fill="none" />
<path d="M241,694 C241.8,695.8 242.5,696.8 243.1,697.7 L262.5,709.7" fill="none" />
<path d="M243.1,697.7 L252.8,703.3" fill="none" />
<path d="M266.2,711.5 L267,712 M269.5,713.2 L272.5,714.3 L283.4,720.6" fill="none" />
<path d="M287.4,798.0 L285.5,796.2 L283.7,794.3 L282.0,792.2 L280.5,790.0 L279.1,787.5 L277.8,784.9 L276.8,782.1 L275.9,779.2 L275.1,776.2 L274.5,773.0 L274.1,769.7 L273.9,766.2 L273.8,762.7 L273.8,759.0 L274.1,755.3 L274.5,751.5 L275.1,747.6 L275.8,743.7 L276.7,739.7 L277.8,735.7 L279.0,731.7 L280.4,727.6 L281.9,723.6 L283.6,719.6 L285.4,715.5 L287.4,711.6 L289.5,707.6 L291.7,703.7 L294.0,699.9 L296.4,696.2 L298.9,692.5 L301.6,688.9 L304.3,685.5 L307.1,682.1 L310.0,678.9 L313.0,675.8 L316.0,672.9 L319.1,670.1 L322.2,667.4 L325.3,664.9 L328.5,662.6 L331.7,660.5 L334.9,658.6 L338.1,656.8 L341.3,655.2 L344.5,653.8 L347.6,652.7 L350.7,651.7 L353.8,651.0 L356.8,650.4 L359.8,650.1 L362.7,649.9 L365.5,650.0 L368.2,650.3 L370.9,650.8 L373.4,651.5 L375.9,652.5 L378.2,653.6 L380.4,654.9 L382.5,656.4 L394.3,665.9 L396.2,667.7 L398.0,669.6 L399.7,671.7 L401.2,673.9 L402.6,676.4 L403.9,679.0 L404.9,681.8 L405.8,684.7 L406.6,687.7 L407.2,690.9 L407.6,694.2 L407.8,697.7 L407.9,701.2 L407.9,704.9 L407.6,708.6 L407.2,712.4 L406.6,716.3 L405.9,720.2 L405.0,724.2 L403.9,728.2 L402.7,732.2 L401.3,736.3 L399.8,740.3 L398.1,744.3 L396.3,748.4 L394.3,752.3 L392.2,756.3 L390.0,760.2 L387.7,764.0 L385.3,767.7 L382.8,771.4 L380.1,775.0 L377.4,778.4 L374.6,781.8 L371.7,785.0 L368.7,788.1 L365.7,791.0 L362.6,793.8 L359.5,796.5 L356.4,799.0 L353.2,801.3 L350.0,803.4 L346.8,805.3 L343.6,807.1 L340.4,808.7 L337.2,810.1 L334.1,811.2 L331.0,812.2 L327.9,812.9 L324.9,813.5 L321.9,813.8 L319.0,814.0 L316.2,813.9 L313.5,813.6 L310.8,813.1 L308.3,812.4 L305.8,811.4 L303.5,810.3 L301.3,809.0 L299.2,807.5Z" fill="#fff"/>
<path d="M287.0,797.6 L284.4,795.2 L282.1,792.5 L280.1,789.4 L278.4,786.1 L276.9,782.4 L275.7,778.5 L274.8,774.4 L274.1,770.0 L273.8,765.4 L273.8,760.6 L274.1,755.7 L274.6,750.6 L275.5,745.4 L276.6,740.1 L278.1,734.8 L279.8,729.4 L281.8,724.0 L284.0,718.6 L286.5,713.3 L289.2,708.0 L292.2,702.8 L295.3,697.8 L298.7,692.9 L302.2,688.1 L305.9,683.6 L309.7,679.2 L313.7,675.1 L317.7,671.3 L321.9,667.7 L326.1,664.4 L330.3,661.4 L334.6,658.7 L338.9,656.4 L343.1,654.4 L347.3,652.8 L351.5,651.5 L355.5,650.6 L359.5,650.1 L363.3,649.9 L367.1,650.2 L370.6,650.8 L374.0,651.7 L377.2,653.1 L380.2,654.8 L382.9,656.8" />
<ellipse cx="346.8" cy="736.7" rx="49.2" ry="85.4" transform="rotate(31.4 346.8 736.7)" fill="none" />
<path d="M74.5,794.8 L85.5,775.9 L88.2,778.5 L111.2,766.4 L113.5,767.9 L113.9,784.2 L88.2,797.8 L88.5,803.1 Z" fill="#fff" stroke-width="1.7" />
<path d="M77,794.5 L86.3,778.6" fill="none" stroke-width="1.2" />
<path d="M88.6,781 L111.6,769.2 L111.8,785" fill="none" stroke-width="1.2" />
</g>
<g><text transform="translate(207.3,139.3) scale(1,1)" text-anchor="middle" font-size="13" stroke="#000" stroke-width="0.45">I</text>
<text transform="translate(488.35,249.7) scale(1.13,1)" text-anchor="middle" font-size="13.7" stroke="#000" stroke-width="0.45">2</text>
<text transform="translate(500.25,368.2) scale(1.25,1)" text-anchor="middle" font-size="13" stroke="#000" stroke-width="0.45">3</text>
<text transform="translate(352.8,263.9) scale(1.22,1)" text-anchor="middle" font-size="13" stroke="#000" stroke-width="0.45">4</text>
<text transform="translate(373.1,293.6) scale(1.2,1)" text-anchor="middle" font-size="13" stroke="#000" stroke-width="0.45">5</text>
<text transform="translate(315.25,296.0) scale(1.33,1)" text-anchor="middle" font-size="13" stroke="#000" stroke-width="0.45">6</text>
<text transform="translate(349.2,296.6) scale(1.3,1)" text-anchor="middle" font-size="13.5" stroke="#000" stroke-width="0.45">7</text>
<text transform="translate(253.15,431.4) scale(1.04,1)" text-anchor="middle" font-size="14.8" stroke="#000" stroke-width="0.45">8</text>
<text transform="translate(91.65,400.5) scale(1.24,1)" text-anchor="middle" font-size="14.8" stroke="#000" stroke-width="0.45">9</text>
<text transform="translate(168.8,396.3) scale(1,1)" text-anchor="middle" font-size="14" stroke="#000" stroke-width="0.45">I</text>
<text transform="translate(175.7,396.3) scale(0.92,1)" text-anchor="middle" font-size="14" stroke="#000" stroke-width="0.45">O</text></g>
<g><text transform="translate(60.15,826.4) scale(1.3,1)" text-anchor="middle" font-size="11.5" stroke="#000" stroke-width="0.5">4</text>
<text transform="translate(67.9,826.4) scale(0.85,1)" text-anchor="middle" font-size="11.5" stroke="#000" stroke-width="0.5">E</text>
<text transform="translate(75.85,826.4) scale(1.05,1)" text-anchor="middle" font-size="11.5" stroke="#000" stroke-width="0.5">M</text>
<text transform="translate(82.3,826.4) scale(1,1)" text-anchor="middle" font-size="11.5" stroke="#000" stroke-width="0.5">I</text>
<text transform="translate(86,826.4) scale(1,1)" text-anchor="middle" font-size="11.5" stroke="#000" stroke-width="0.5">I</text>
<text transform="translate(93.45,826.4) scale(0.98,1)" text-anchor="middle" font-size="11.5" stroke="#000" stroke-width="0.5">O</text>
<text transform="translate(103.45,826.4) scale(0.98,1)" text-anchor="middle" font-size="11.5" stroke="#000" stroke-width="0.5">O</text>
<text transform="translate(111.25,826.4) scale(1.2,1)" text-anchor="middle" font-size="11.5" stroke="#000" stroke-width="0.5">-</text>
<text transform="translate(119.3,826.4) scale(1.3,1)" text-anchor="middle" font-size="11.5" stroke="#000" stroke-width="0.5">2</text>
<text transform="translate(127.6,826.4) scale(1,1)" text-anchor="middle" font-size="11.5" stroke="#000" stroke-width="0.5">I</text>
<text transform="translate(134.45,826.4) scale(0.98,1)" text-anchor="middle" font-size="11.5" stroke="#000" stroke-width="0.5">O</text>
<text transform="translate(144.15,826.4) scale(0.98,1)" text-anchor="middle" font-size="11.5" stroke="#000" stroke-width="0.5">O</text></g>
<g transform="translate(87.8,795.8) skewY(-29) scale(0.68,1)"><text x="0" y="0" font-size="16" font-weight="bold" font-style="italic" stroke="#000" stroke-width="0.7">FWD</text></g>
</svg>
</body></html>
